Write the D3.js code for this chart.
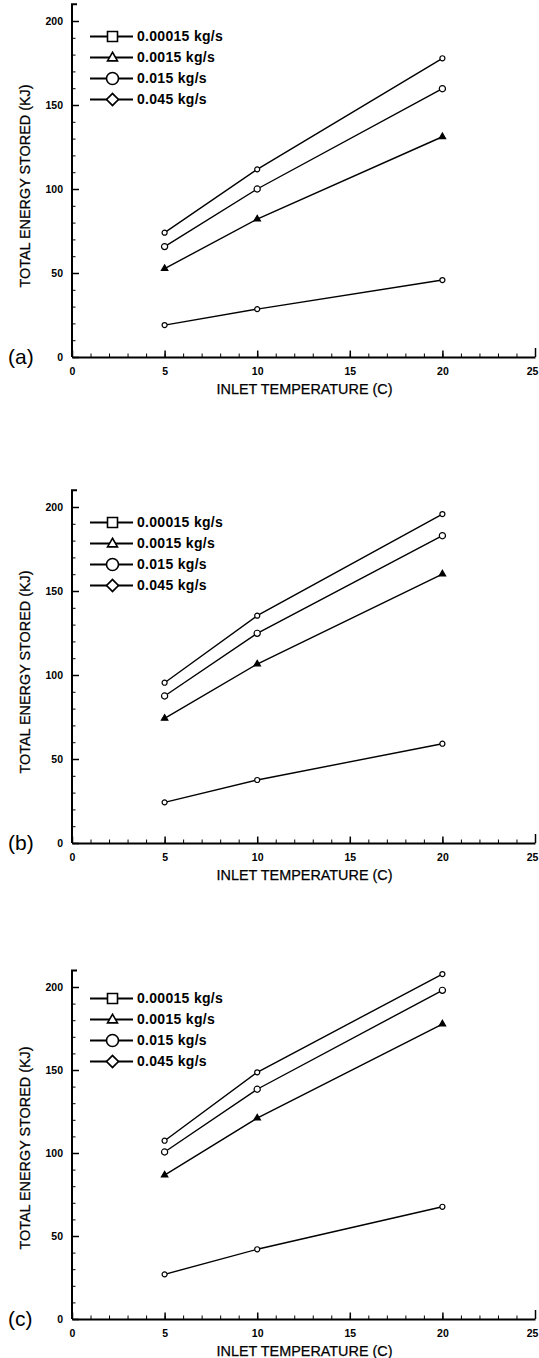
<!DOCTYPE html>
<html>
<head>
<meta charset="utf-8">
<script src="https://cdn.jsdelivr.net/npm/d3@7"></script>
<style>
  body { margin: 0; background: #fff; }
  svg { display: block; font-family: "Liberation Sans", Arial, Helvetica, sans-serif; }
  .tick text { font-size: 10.5px; font-weight: bold; fill: #000; }
  .axisTitle { font-size: 14.4px; fill: #000; stroke: #000; stroke-width: 0.25px; }
  .legendText { font-size: 14px; font-weight: bold; fill: #000; letter-spacing: 0.3px; }
  .panelLabel { font-size: 21px; fill: #000; }
</style>
</head>
<body>
<div id="chart"></div>
<script>

// values, one row per flow rate, one column per temperature
var temps = [5, 10, 20];
var flowRates = ["0.00015 kg/s", "0.0015 kg/s", "0.015 kg/s", "0.045 kg/s"];
var panelLabels = ["(a)", "(b)", "(c)"];

var energyA = [
	[19.0, 28.5, 45.8],
	[52.6, 82.1, 131.1],
	[65.7, 100.0, 159.7],
	[74.0, 111.7, 177.8]
];
var energyB = [
	[24.2, 37.5, 59.1],
	[74.2, 106.5, 160.1],
	[87.5, 124.8, 182.9],
	[95.4, 135.3, 195.8]
];
var energyC = [
	[26.9, 42.0, 67.6],
	[86.7, 121.0, 177.7],
	[100.6, 138.4, 198.0],
	[107.4, 148.6, 207.8]
];

var xTicks = [0, 5, 10, 15, 20, 25];
var yTicks = [0, 50, 100, 150, 200];
var xTitle = "INLET TEMPERATURE (C)";
var yTitle = "TOTAL ENERGY STORED (KJ)";

var panels = [energyA, energyB, energyC];

var width = 539, height = 1358;

// bottom of each plot (y=0) and pixel height of 0..200
var panelBottom = [357, 843, 1319];
var panelSpan = [336, 336, 332];

var svg = d3.select("#chart").append("svg")
	.attr("width", width)
	.attr("height", height);

var x = d3.scaleLinear().domain([0, 25]).range([72, 535]);

// legend symbols (big) and point symbols (small)
var legendSymbols = [
	d3.symbol().type(d3.symbolSquare).size(100),
	d3.symbol().type(d3.symbolTriangle).size(43),
	d3.symbol().type(d3.symbolCircle).size(113),
	d3.symbol().type(d3.symbolSquare).size(72)
];
var pointSymbols = [
	d3.symbol().type(d3.symbolCircle).size(20),
	d3.symbol().type(d3.symbolTriangle).size(18),
	d3.symbol().type(d3.symbolCircle).size(30),
	d3.symbol().type(d3.symbolCircle).size(20)
];

function drawPanel(energy, idx) {
	var y0 = panelBottom[idx];
	var y = d3.scaleLinear().domain([0, 200]).range([y0, y0 - panelSpan[idx]]);

	var g = svg.append("g").attr("class", "panel");

	/* x axis: minor ticks every 1, major every 5, all pointing inward */
	var xMinor = g.append("g")
		.attr("transform", "translate(0," + y0 + ")")
		.call(d3.axisBottom(x).tickValues(d3.range(0, 26, 1)).tickSize(-3.5).tickFormat(""));
	xMinor.select(".domain").remove();

	var xMajor = g.append("g")
		.attr("transform", "translate(0," + y0 + ")")
		.call(d3.axisBottom(x).tickValues(xTicks).tickSize(-6.5).tickSizeOuter(0).tickPadding(11));
	xMajor.select(".domain").attr("stroke-width", 2);
	xMajor.selectAll(".tick line").attr("stroke-width", 1.5)
		.filter(function(d) { return d === 25; }).attr("y2", -9);
	// last label sits at the page edge, nudge it in so it stays readable
	xMajor.selectAll(".tick text")
		.filter(function(d) { return d === 25; }).attr("x", -3);

	/* y axis: minor ticks every 10 */
	var yMinor = g.append("g")
		.attr("transform", "translate(" + x(0) + ",0)")
		.call(d3.axisLeft(y).tickValues(d3.range(0, 201, 10)).tickSize(-3.5).tickFormat(""));
	yMinor.select(".domain").remove();

	var yMajor = g.append("g")
		.attr("transform", "translate(" + x(0) + ",0)")
		.call(d3.axisLeft(y).tickValues(yTicks).tickSize(-7).tickSizeOuter(0).tickPadding(9));
	yMajor.select(".domain").remove();
	yMajor.selectAll(".tick line").attr("stroke-width", 1.5);

	// axis line runs a bit past 200 with a small cap
	g.append("path")
		.attr("d", "M" + (x(0) + 5) + "," + y(210) + "H" + x(0) + "V" + y0)
		.attr("fill", "none")
		.attr("stroke", "#000")
		.attr("stroke-width", 2);

	/* titles */
	g.append("text")
		.attr("class", "axisTitle")
		.attr("x", (x(0) + x(25)) / 2 + 1)
		.attr("y", y0 + 37)
		.attr("text-anchor", "middle")
		.text(xTitle);

	g.append("text")
		.attr("class", "axisTitle")
		.attr("transform", "translate(30," + (y0 - 171) + ") rotate(-90)")
		.attr("text-anchor", "middle")
		.text(yTitle);

	g.append("text")
		.attr("class", "panelLabel")
		.attr("x", 8)
		.attr("y", y0 + 7)
		.text(panelLabels[idx]);

	/* series lines and points */
	var line = d3.line()
		.x(function(d, i) { return x(temps[i]); })
		.y(function(d) { return y(d); });

	energy.forEach(function(series, s) {
		g.append("path")
			.datum(series)
			.attr("d", line)
			.attr("fill", "none")
			.attr("stroke", "#000")
			.attr("stroke-width", 1.4);

		g.selectAll(".pt" + s)
			.data(series)
			.enter().append("path")
			.attr("class", "pt" + s)
			.attr("transform", function(d, i) { return "translate(" + x(temps[i]) + "," + y(d) + ")"; })
			.attr("d", pointSymbols[s])
			.attr("fill", s === 1 ? "#000" : "#fff")
			.attr("stroke", "#000")
			.attr("stroke-width", 1.2);
	});

	/* legend, top left inside the plot */
	var legend = g.selectAll(".legendRow")
		.data(flowRates)
		.enter().append("g")
		.attr("class", "legendRow")
		.attr("transform", function(d, i) { return "translate(0," + (y0 - 320.5 + i * 21) + ")"; });

	legend.append("line")
		.attr("x1", 90).attr("x2", 133)
		.attr("stroke", "#000")
		.attr("stroke-width", 1.8);

	legend.append("path")
		.attr("transform", function(d, i) { return "translate(112.5," + (i === 1 ? 0.5 : 0) + ")" + (i === 3 ? " rotate(45)" : ""); })
		.attr("d", function(d, i) { return legendSymbols[i](); })
		.attr("fill", "#fff")
		.attr("stroke", "#000")
		.attr("stroke-width", 1.6);

	legend.append("text")
		.attr("class", "legendText")
		.attr("x", 137)
		.attr("dy", "0.35em")
		.text(function(d) { return d; });
}

panels.forEach(function(p, i) { drawPanel(p, i); });

</script>
</body>
</html>
